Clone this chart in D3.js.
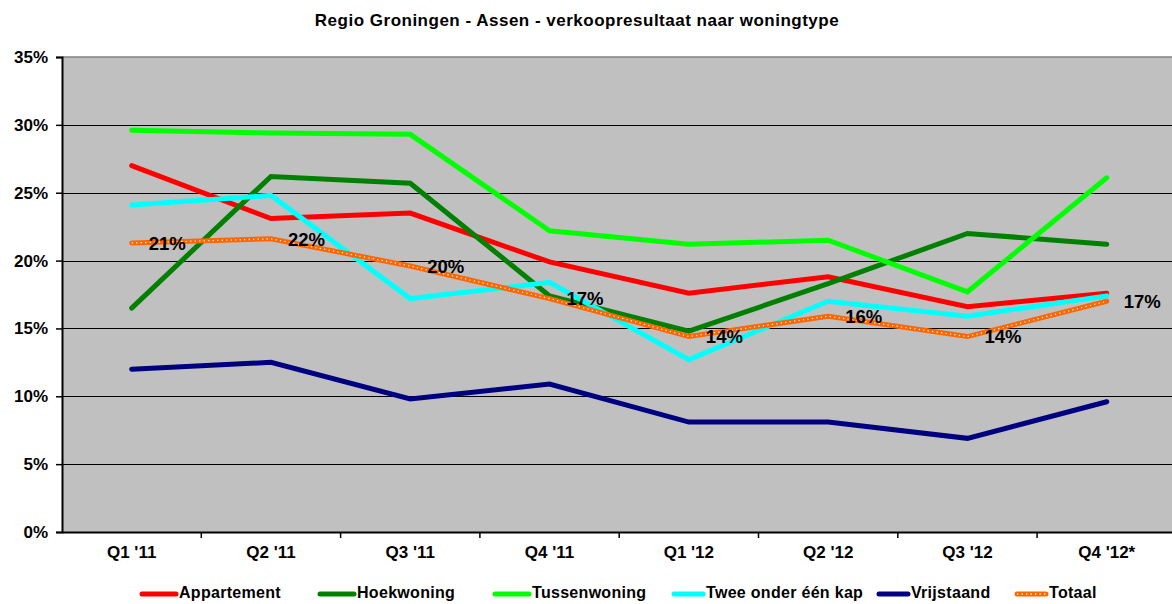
<!DOCTYPE html>
<html>
<head>
<meta charset="utf-8">
<script src="https://cdn.jsdelivr.net/npm/d3@7"></script>
<style>
  html, body { margin: 0; padding: 0; background: #fff; }
  svg { display: block; font-family: "Liberation Sans", Arial, sans-serif; }
</style>
</head>
<body>
<svg id="chart" width="1172" height="604"></svg>
<script>
const title = "Regio Groningen - Assen - verkoopresultaat naar woningtype";
const categories = ["Q1 '11", "Q2 '11", "Q3 '11", "Q4 '11", "Q1 '12", "Q2 '12", "Q3 '12", "Q4 '12*"];
const seriesNames = ["Appartement", "Hoekwoning", "Tussenwoning", "Twee onder één kap", "Vrijstaand", "Totaal"];
const appartement = [27.0, 23.1, 23.5, 19.9, 17.6, 18.8, 16.6, 17.6];
const hoekwoning  = [16.5, 26.2, 25.7, 17.4, 14.8, 18.3, 22.0, 21.2];
const tussenwoning = [29.6, 29.4, 29.3, 22.2, 21.2, 21.5, 17.7, 26.1];
const tweeOnder   = [24.1, 24.8, 17.2, 18.4, 12.7, 17.0, 15.9, 17.4];
const vrijstaand  = [12.0, 12.5, 9.8, 10.9, 8.1, 8.1, 6.9, 9.6];
const totaal      = [21.3, 21.6, 19.6, 17.2, 14.4, 15.9, 14.4, 17.0];
const totaalLabels = ["21%", "22%", "20%", "17%", "14%", "16%", "14%", "17%"];
const yTicks = [0, 5, 10, 15, 20, 25, 30, 35];
const colors = ["#FF0000", "#008000", "#00FF00", "#00FFFF", "#000080", "#FF6600"];

const seriesValues = [appartement, hoekwoning, tussenwoning, tweeOnder, vrijstaand, totaal];

const svg = d3.select("#chart");
const mLeft = 62, mTop = 57, mBottom = 532, bandW = 139.3;
const mRight = mLeft + bandW * categories.length;

const x = d3.scaleBand().domain(categories).range([mLeft, mRight]).padding(0);
const y = d3.scaleLinear().domain([0, 35]).range([mBottom, mTop]);
const cx = c => x(c) + x.bandwidth() / 2;

// plot background
svg.append("rect").attr("x", mLeft).attr("y", mTop)
  .attr("width", mRight - mLeft).attr("height", mBottom - mTop).attr("fill", "#C0C0C0");

// top border (gray)
svg.append("line").attr("x1", mLeft).attr("x2", mRight).attr("y1", mTop).attr("y2", mTop)
  .attr("stroke", "#808080").attr("stroke-width", 1.5);

// gridlines
svg.append("g").selectAll("line").data(yTicks.filter(t => t > 0 && t < 35)).join("line")
  .attr("x1", mLeft).attr("x2", mRight)
  .attr("y1", d => Math.round(y(d)) + 0.5).attr("y2", d => Math.round(y(d)) + 0.5)
  .attr("stroke", "#000").attr("stroke-width", 1.2);

// y axis
const yAxis = d3.axisLeft(y).tickValues(yTicks).tickFormat(d => d + "%").tickSize(6).tickPadding(8);
const gy = svg.append("g").attr("transform", `translate(${mLeft},0)`).call(yAxis);
gy.select(".domain").attr("stroke", "#000").attr("stroke-width", 2);
gy.selectAll(".tick line").attr("stroke", "#000").attr("stroke-width", 1.5);
gy.selectAll(".tick text").attr("font-size", "17px").attr("font-weight", "bold")
  .attr("fill", "#000").attr("font-family", "Liberation Sans, Arial, sans-serif");

// x axis
const xAxis = d3.axisBottom(x).tickSize(0).tickPadding(14);
const gx = svg.append("g").attr("transform", `translate(0,${mBottom})`).call(xAxis);
gx.select(".domain").attr("stroke", "#000").attr("stroke-width", 2);
gx.selectAll(".tick text").attr("font-size", "17px").attr("font-weight", "bold")
  .attr("fill", "#000").attr("font-family", "Liberation Sans, Arial, sans-serif");
// boundary ticks between categories
svg.append("g").selectAll("line").data(categories.slice(1)).join("line")
  .attr("x1", d => x(d)).attr("x2", d => x(d))
  .attr("y1", mBottom).attr("y2", mBottom + 6)
  .attr("stroke", "#000").attr("stroke-width", 1.5);

// lines
const line = d3.line().x((d, i) => cx(categories[i])).y(d => y(d));
seriesValues.forEach((vals, si) => {
  svg.append("path").datum(vals).attr("d", line)
    .attr("fill", "none").attr("stroke", colors[si]).attr("stroke-width", 5)
    .attr("stroke-linejoin", "miter").attr("stroke-linecap", "round");
  if (si === 5) {
    svg.append("path").datum(vals).attr("d", line)
      .attr("fill", "none").attr("stroke", "#FFFFFF").attr("stroke-width", 1.3)
      .attr("stroke-dasharray", "1.3 3.2").attr("opacity", 0.9);
  }
});

// Totaal labels
svg.append("g").selectAll("text").data(totaal).join("text")
  .attr("x", (d, i) => cx(categories[i]) + 17)
  .attr("y", d => y(d) + 2)
  .attr("dominant-baseline", "middle")
  .attr("font-size", "18.5px").attr("font-weight", "bold").attr("fill", "#000")
  .text((d, i) => totaalLabels[i]);

// title
svg.append("text").attr("x", 577).attr("y", 26).attr("text-anchor", "middle")
  .attr("font-size", "17px").attr("font-weight", "bold").attr("fill", "#000")
  .attr("letter-spacing", "0.5px")
  .text(title);

// legend
const legendX = [140, 318, 493, 672, 877, 1015];
const legendY = 594;
const lg = svg.append("g");
seriesNames.forEach((name, i) => {
  const g = lg.append("g").attr("transform", `translate(${legendX[i]},${legendY})`);
  const len = i < 3 ? 36 : 31;
  g.append("line").attr("x1", 2).attr("x2", len).attr("y1", 0).attr("y2", 0)
    .attr("stroke", colors[i]).attr("stroke-width", 5).attr("stroke-linecap", "round");
  if (i === 5) {
    g.append("line").attr("x1", 2).attr("x2", len).attr("y1", 0).attr("y2", 0)
      .attr("stroke", "#fff").attr("stroke-width", 1.3).attr("stroke-dasharray", "1.3 3.2");
  }
  g.append("text").attr("x", len + 3).attr("y", 0).attr("dominant-baseline", "middle")
    .attr("font-size", "16px").attr("font-weight", "bold").attr("fill", "#000")
    .attr("letter-spacing", "0.3px")
    .text(name);
});
</script>
</body>
</html>
